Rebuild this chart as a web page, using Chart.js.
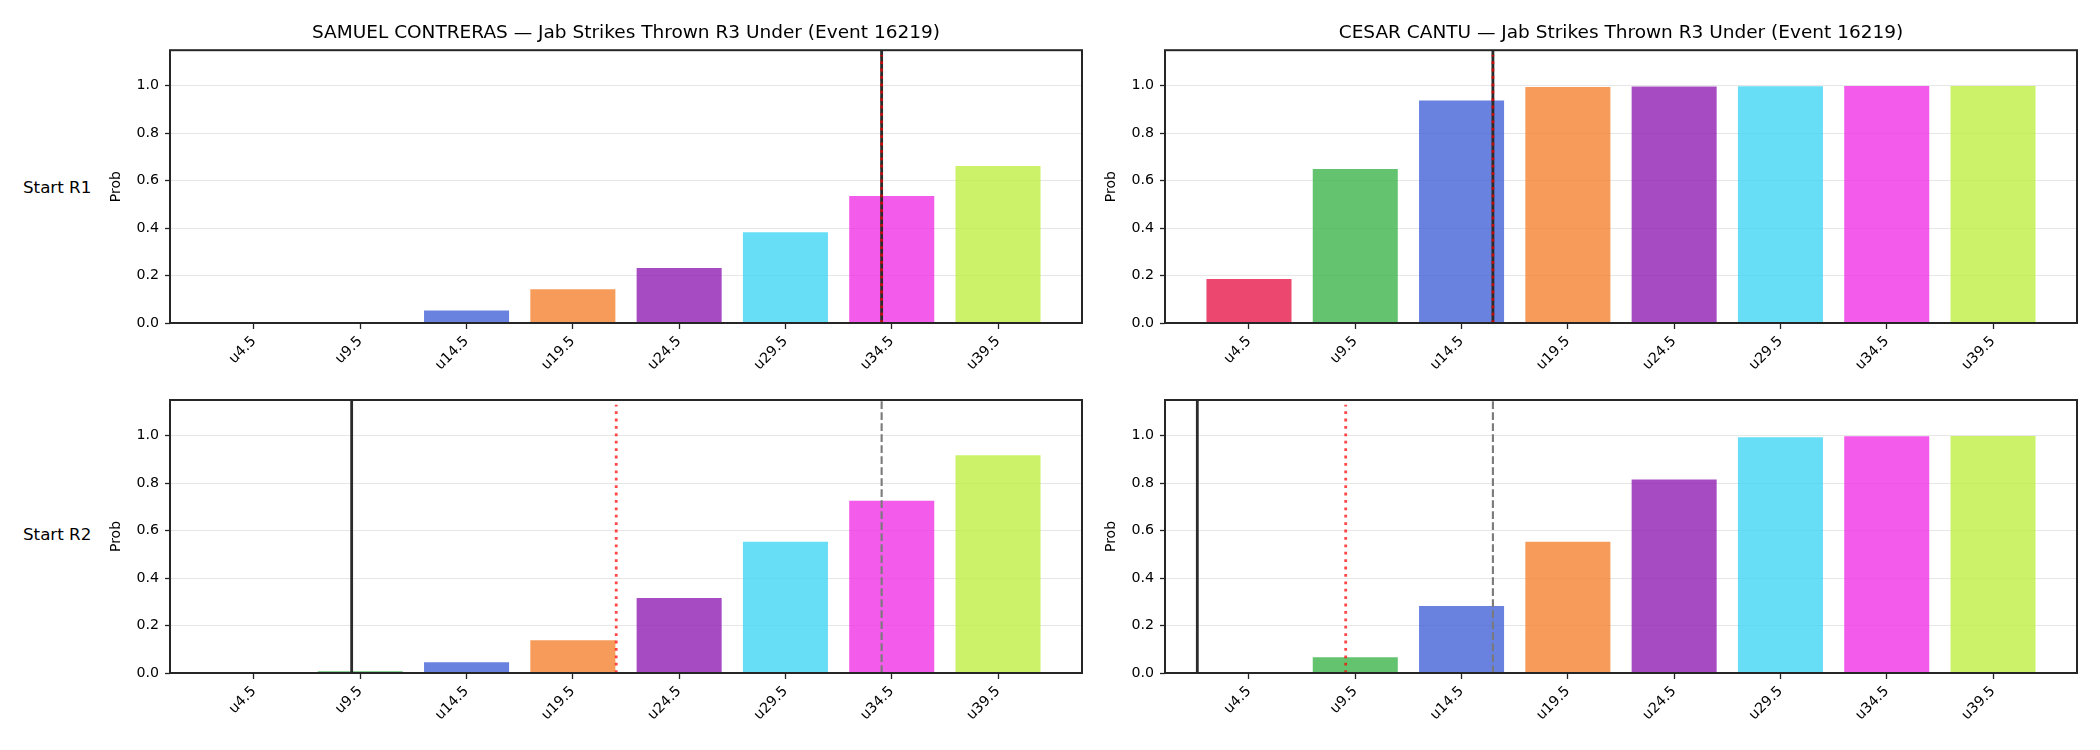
<!DOCTYPE html>
<html>
<head>
<meta charset="utf-8">
<script src="https://cdn.jsdelivr.net/npm/chart.js@4.4.1/dist/chart.umd.min.js"></script>
<style>
  body { margin: 0; background: #fff; width: 2100px; height: 750px; position: relative; overflow: hidden; font-family: 'DejaVu Sans'; }
  canvas { position: absolute; }
  .rowlabel { position: absolute; left: 23px; font-size: 16.7px; line-height: 20px; color: #000; }
</style>
</head>
<body>
<div class="rowlabel" style="top:177px">Start R1</div>
<div class="rowlabel" style="top:524px">Start R2</div>
<canvas id="c1" width="1100" height="370" style="left:0;top:0"></canvas>
<canvas id="c2" width="1000" height="370" style="left:1100px;top:0"></canvas>
<canvas id="c3" width="1100" height="350" style="left:0;top:372px"></canvas>
<canvas id="c4" width="1000" height="350" style="left:1100px;top:372px"></canvas>
<script>
// categories and ticks
const categories = ['u4.5', 'u9.5', 'u14.5', 'u19.5', 'u24.5', 'u29.5', 'u34.5', 'u39.5'];
const yTicks = [0, 0.2, 0.4, 0.6, 0.8, 1.0];
const barColors = [
  'rgba(230,25,75,0.8)', 'rgba(60,180,75,0.8)', 'rgba(67,99,216,0.8)', 'rgba(245,130,49,0.8)',
  'rgba(145,30,180,0.8)', 'rgba(66,212,244,0.8)', 'rgba(240,50,230,0.8)', 'rgba(191,239,69,0.8)'
];

// probabilities per panel
const samuelR1 = [0, 0, 0.053, 0.142, 0.232, 0.383, 0.535, 0.662];
const cesarR1 = [0.185, 0.649, 0.938, 0.995, 0.997, 0.998, 0.999, 0.999];
const samuelR2 = [0, 0.007, 0.045, 0.138, 0.316, 0.553, 0.726, 0.917];
const cesarR2 = [0.004, 0.066, 0.282, 0.553, 0.815, 0.993, 0.997, 0.998];

// vertical reference lines, in x-axis index units
const dashedLine = { samuel: 5.905, cesar: 2.295 };
const solidLineR1 = { samuel: 5.905, cesar: 2.295 };
const solidLineR2 = { samuel: 0.919, cesar: -0.486 };
const dottedLineR1 = { samuel: 5.905, cesar: 2.295 };
const dottedLineR2 = { samuel: 3.408, cesar: 0.91 };

Chart.defaults.font.family = 'DejaVu Sans';
Chart.defaults.color = '#000';

// draw the box around the plot like matplotlib spines
const framePlugin = {
  id: 'frame',
  afterDraw(chart) {
    const a = chart.chartArea, ctx = chart.ctx;
    ctx.save();
    ctx.strokeStyle = '#262626';
    ctx.lineWidth = 2;
    ctx.strokeRect(a.left, a.top, a.right - a.left, a.bottom - a.top);
    ctx.restore();
  }
};

function vline(x, top, color, width, dash, order) {
  return {
    type: 'line',
    data: [{ x: x, y: 0 }, { x: x, y: top }],
    borderColor: color,
    borderWidth: width,
    borderDash: dash,
    pointRadius: 0,
    fill: false,
    order: order
  };
}

function makeChart(id, values, lines, title, pad, yWidth, xHeight) {
  const ctx = document.getElementById(id);
  new Chart(ctx, {
    type: 'bar',
    data: {
      datasets: [
        {
          data: values.map((v, i) => ({ x: i, y: v })),
          backgroundColor: barColors,
          barPercentage: 0.8,
          categoryPercentage: 1.0,
          order: 10
        },
        vline(lines.dashed, 1.15, '#7a7a7a', 2.1, [7.7, 3.3], 3),
        vline(lines.solid, 1.15, '#2b2b2b', 2.8, [], 2),
        vline(lines.dotted, 1.13, 'rgba(255,0,0,0.72)', 2.8, [2.8, 4.6], 1)
      ]
    },
    options: {
      responsive: false,
      animation: false,
      layout: { padding: pad },
      plugins: {
        legend: { display: false },
        tooltip: { enabled: false },
        title: {
          display: !!title,
          text: title,
          fullSize: false,
          color: '#000',
          font: { size: 18.5, weight: 'normal' },
          padding: { top: 22, bottom: 6 }
        }
      },
      scales: {
        x: {
          type: 'linear',
          offset: false,
          min: -0.79,
          max: 7.79,
          border: { display: false },
          grid: { offset: false, drawOnChartArea: false, drawTicks: true, tickLength: 6, tickColor: '#222', tickWidth: 1.3 },
          afterBuildTicks: s => { s.ticks = categories.map((c, i) => ({ value: i })); },
          afterFit: s => { s.height = xHeight; },
          ticks: {
            callback: v => categories[v],
            autoSkip: false,
            minRotation: 45,
            maxRotation: 45,
            padding: 4,
            color: '#000',
            font: { size: 14.2 }
          }
        },
        y: {
          min: 0,
          max: 1.15,
          border: { display: false },
          grid: { color: '#e6e6e6', lineWidth: 1, tickColor: '#222', tickLength: 5, tickWidth: 1.3 },
          afterBuildTicks: s => { s.ticks = yTicks.map(v => ({ value: v })); },
          afterFit: s => { s.width = yWidth; },
          ticks: {
            callback: v => v.toFixed(1),
            padding: 6,
            color: '#000',
            font: { size: 14.2 }
          },
          title: {
            display: true,
            text: 'Prob',
            color: '#000',
            font: { size: 14 },
            padding: { top: pad.left > 0 ? 8 : 3, bottom: 0 }
          }
        }
      }
    },
    plugins: [framePlugin]
  });
}

makeChart('c1', samuelR1,
  { dashed: dashedLine.samuel, solid: solidLineR1.samuel, dotted: dottedLineR1.samuel },
  'SAMUEL CONTRERAS \u2014 Jab Strikes Thrown R3 Under (Event 16219)',
  { left: 100, right: 18, top: 0, bottom: 0 }, 70, 47);

makeChart('c2', cesarR1,
  { dashed: dashedLine.cesar, solid: solidLineR1.cesar, dotted: dottedLineR1.cesar },
  'CESAR CANTU \u2014 Jab Strikes Thrown R3 Under (Event 16219)',
  { left: 0, right: 23, top: 0, bottom: 0 }, 65, 47);

makeChart('c3', samuelR2,
  { dashed: dashedLine.samuel, solid: solidLineR2.samuel, dotted: dottedLineR2.samuel },
  '',
  { left: 100, right: 18, top: 28, bottom: 0 }, 70, 49);

makeChart('c4', cesarR2,
  { dashed: dashedLine.cesar, solid: solidLineR2.cesar, dotted: dottedLineR2.cesar },
  '',
  { left: 0, right: 23, top: 28, bottom: 0 }, 65, 49);
</script>
</body>
</html>
